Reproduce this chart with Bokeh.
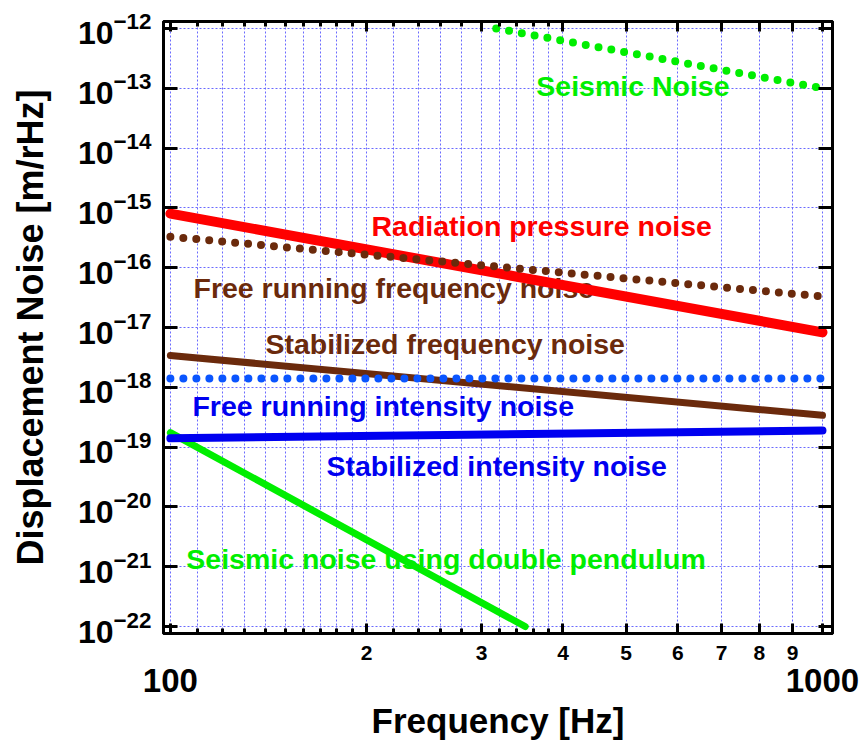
from bokeh.plotting import figure
from bokeh.models import (FixedTicker, LogAxis, Range1d, ColumnDataSource,
                          BasicTickFormatter)
from bokeh.core.properties import value
from bokeh.embed import file_html
from bokeh.resources import INLINE

# ---------------- data ----------------
freq_full = [100, 1000]
seismic_freq = [316, 1000]
seismic_noise = [1.0e-12, 1.0e-13]
radiation_pressure_noise = [8.0e-16, 8.3e-18]
free_running_frequency_noise = [3.3e-16, 3.3e-17]
stabilized_frequency_noise = [3.4e-18, 3.4e-19]
free_running_intensity_noise = [1.4e-18, 1.4e-18]
stabilized_intensity_noise = [1.4e-19, 1.9e-19]
pendulum_freq = [100, 350]
pendulum_noise = [1.75e-19, 1.0e-22]

x_major_ticks = [100, 200, 300, 400, 500, 600, 700, 800, 900, 1000]
x_minor_ticks = [110, 120, 130, 140, 150, 160, 170, 180, 190,
                 220, 240, 260, 280, 320, 340, 360, 380]
x_digit_labels = {100: "", 200: "2", 300: "3", 400: "4", 500: "5", 600: "6",
                  700: "7", 800: "8", 900: "9", 1000: ""}
x_end_ticks = [100, 1000]
y_major_ticks = [1e-22, 1e-21, 1e-20, 1e-19, 1e-18, 1e-17, 1e-16, 1e-15,
                 1e-14, 1e-13, 1e-12]

label_texts = ["Seismic Noise", "Radiation pressure noise",
               "Free running frequency noise", "Stabilized frequency noise",
               "Free running intensity noise", "Stabilized intensity noise",
               "Seismic noise using double pendulum"]
label_x = [364, 203.4, 108.5, 139.9, 108.1, 173.5, 105.8]
label_y = [1.11e-13, 4.89e-16, 4.49e-17, 5.2e-18, 4.96e-19, 4.92e-20, 1.37e-21]

GREEN = "#00ee00"
RED = "#ff0000"
BROWN = "#6b2a0c"
BLUE_DOT = "#0a55ff"
BLUE = "#0000f0"
label_colors = [GREEN, RED, BROWN, BROWN, BLUE, BLUE, GREEN]

FONT = "Liberation Sans"

p = figure(width=860, height=750, x_axis_type="log", y_axis_type="log",
           x_range=Range1d(97.6, 1036), y_range=Range1d(10**-22.117, 10**-11.883),
           output_backend="svg", toolbar_location=None,
           min_border_left=163, min_border_right=28, min_border_top=21,
           min_border_bottom=117)
p.background_fill_color = "white"
p.border_fill_color = "white"
p.outline_line_color = "black"
p.outline_line_width = 3

xticker = FixedTicker(ticks=x_major_ticks, minor_ticks=x_minor_ticks)
yticker = FixedTicker(ticks=y_major_ticks, minor_ticks=[])

# grid
GRID = "#6a6aff"
for g, t in ((p.xgrid[0], xticker), (p.ygrid[0], yticker)):
    g.ticker = t
    g.grid_line_color = GRID
    g.grid_line_dash = "2 2"
    g.grid_line_width = 1
p.xgrid[0].minor_grid_line_color = GRID
p.xgrid[0].minor_grid_line_dash = "2 2"
p.xgrid[0].minor_grid_line_width = 1

# bottom axis with digits
xa = p.xaxis[0]
xa.ticker = xticker
xa.formatter = BasicTickFormatter(use_scientific=False)
xa.major_label_overrides = x_digit_labels
xa.major_label_text_font = FONT
xa.major_label_text_font_style = "bold"
xa.major_label_text_font_size = "21px"
xa.major_label_text_color = "black"
xa.major_label_standoff = 12
xa.axis_line_width = 3
xa.major_tick_in = 10
xa.major_tick_out = 0
xa.minor_tick_in = 5
xa.minor_tick_out = 0
xa.major_tick_line_width = 3
xa.minor_tick_line_width = 3

# second bottom axis with 100 / 1000
xb = LogAxis(ticker=FixedTicker(ticks=x_end_ticks, minor_ticks=[]),
             formatter=BasicTickFormatter(use_scientific=False))
xb.axis_line_color = None
xb.major_tick_line_color = None
xb.minor_tick_line_color = None
xb.major_tick_out = 0
xb.major_tick_in = 0
xb.major_label_standoff = 6
xb.major_label_text_font = FONT
xb.major_label_text_font_style = "bold"
xb.major_label_text_font_size = "33px"
xb.major_label_text_color = "black"
xb.axis_label = "Frequency [Hz]"
xb.axis_label_text_font = FONT
xb.axis_label_text_font_style = "bold"
xb.axis_label_text_font_size = "35px"
xb.axis_label_text_color = "black"
xb.axis_label_standoff = 6
p.add_layout(xb, "below")

# left axis
ya = p.yaxis[0]
ya.ticker = yticker
ya.axis_line_width = 3
ya.major_tick_in = 14
ya.major_tick_out = 0
ya.major_tick_line_width = 3
ya.minor_tick_line_color = None
ya.major_label_text_font = FONT
ya.major_label_text_font_style = "bold"
ya.major_label_text_font_size = "32px"
ya.major_label_text_color = "black"
ya.major_label_standoff = 12
ya.axis_label = "Displacement Noise [m/rHz]"
ya.axis_label_text_font = FONT
ya.axis_label_text_font_style = "bold"
ya.axis_label_text_font_size = "36px"
ya.axis_label_text_color = "black"
ya.axis_label_standoff = 24

# mirrored axes on top and right (ticks only, labels not drawn)
top = LogAxis(ticker=xticker)
right = LogAxis(ticker=yticker)
for ax in (top, right):
    ax.major_label_text_font_size = "1px"
    ax.major_label_text_color = None
    ax.major_label_standoff = 0
    ax.axis_line_width = 3
    ax.major_tick_out = 0
    ax.minor_tick_out = 0
    ax.major_tick_line_width = 3
    ax.minor_tick_line_width = 3
top.major_tick_in = 10
top.minor_tick_in = 5
right.major_tick_in = 14
right.minor_tick_line_color = None
p.add_layout(top, "above")
p.add_layout(right, "right")

# labels
src = ColumnDataSource(dict(x=label_x, y=label_y, text=label_texts, color=label_colors))
p.text(x="x", y="y", text="text", source=src, text_color="color",
       text_font=value(FONT), text_font_style="bold", text_font_size="28.5px",
       text_align="left", text_baseline="middle")

# curves
p.line(pendulum_freq, pendulum_noise, line_color=GREEN, line_width=7, line_cap="round")
p.line(seismic_freq, seismic_noise, line_color=GREEN, line_width=8,
       line_dash="0 13", line_cap="round")
p.line(freq_full, radiation_pressure_noise, line_color=RED, line_width=10, line_cap="round")
p.line(freq_full, stabilized_frequency_noise, line_color=BROWN, line_width=7, line_cap="round")
p.line(freq_full, free_running_frequency_noise, line_color=BROWN, line_width=8,
       line_dash="0 13", line_cap="round")
p.line(freq_full, stabilized_intensity_noise, line_color=BLUE, line_width=8, line_cap="round")
p.line(freq_full, free_running_intensity_noise, line_color=BLUE_DOT, line_width=8,
       line_dash="0 13", line_cap="round")

open("out.html", "w").write(file_html(p, INLINE))
